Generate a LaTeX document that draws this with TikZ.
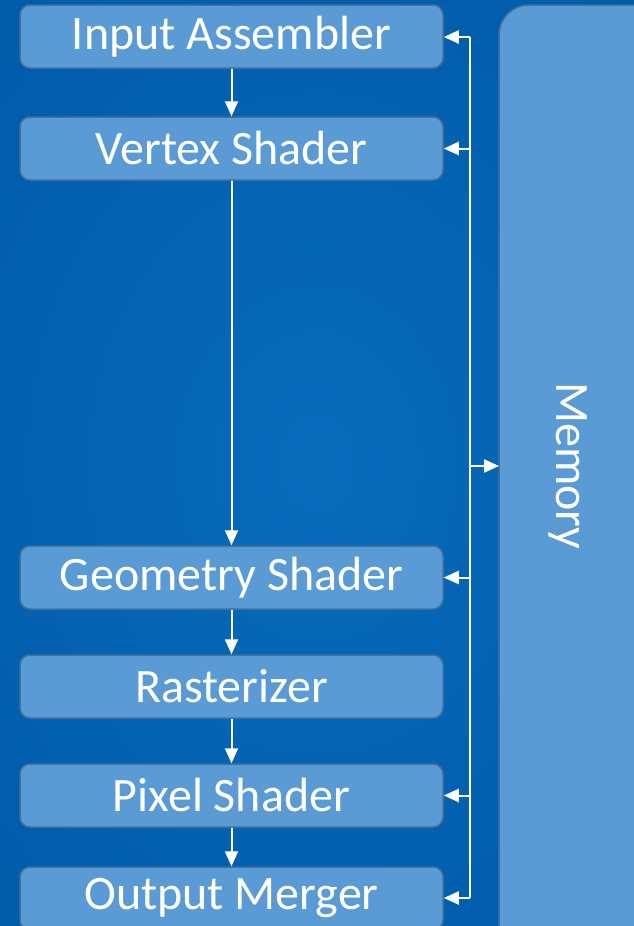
\documentclass[tikz,border=0pt]{standalone}
\usepackage{fontspec}
\setmainfont{Carlito}
\usetikzlibrary{arrows.meta}
\definecolor{bgA}{HTML}{086BBB}
\definecolor{bgB}{HTML}{005AA8}
\definecolor{boxfill}{HTML}{5B9BD5}
\definecolor{boxline}{HTML}{41719C}
\tikzset{
  stage/.style={draw=boxline, line width=1.5pt, fill=boxfill, rounded corners=10pt,
    minimum width=423pt, minimum height=63pt, inner sep=0pt, text=white,
    font=\fontsize{48}{50}\selectfont},
  wire/.style={white, line width=2pt},
  arr/.style={wire, -{Triangle[length=15pt,width=13pt]}}
}
\begin{document}
\begin{tikzpicture}[x=1pt,y=-1pt]
\useasboundingbox (0,0) rectangle (634,926);
\clip (0,0) rectangle (634,926);
\shade[inner color=bgA, outer color=bgB] (-200,-200) rectangle (834,1126);
% Memory
\draw[draw=boxline, line width=1.5pt, fill=boxfill, rounded corners=30pt] (499,5) rectangle (680,960);
\node[text=white, rotate=-90, font=\fontsize{48}{50}\selectfont] (mem) at (568,466) {Memory};
% stages
\node[stage] (ia) at (231.5,36.5) {Input Assembler};
\node[stage] (vs) at (231.5,148.5) {Vertex Shader};
\node[stage] (gs) at (231.5,577.5) {Geometry Shader};
\node[stage] (ra) at (231.5,686.5) {Rasterizer};
\node[stage] (ps) at (231.5,795.5) {Pixel Shader};
\node[stage] (om) at (231.5,898.5) {Output Merger};
% pipeline arrows
\draw[arr] (ia.south) -- (vs.north);
\draw[arr] (vs.south) -- (gs.north);
\draw[arr] (gs.south) -- (ra.north);
\draw[arr] (ra.south) -- (ps.north);
\draw[arr] (ps.south) -- (om.north);
% bus
\coordinate (bt) at (470,37);
\coordinate (bb) at (470,898);
\coordinate (bm) at (470,466);
\coordinate (memw) at (499,466);
\draw[wire] (bt) -- (bb);
\draw[arr] (bt) -- (ia.east |- bt);
\draw[arr] (vs.east -| bt) -- (vs.east);
\draw[arr] (gs.east -| bt) -- (gs.east);
\draw[arr] (ps.east -| bt) -- (ps.east);
\draw[arr] (bb) -- (om.east |- bb);
\draw[arr] (bm) -- (memw);
\end{tikzpicture}
\end{document}
